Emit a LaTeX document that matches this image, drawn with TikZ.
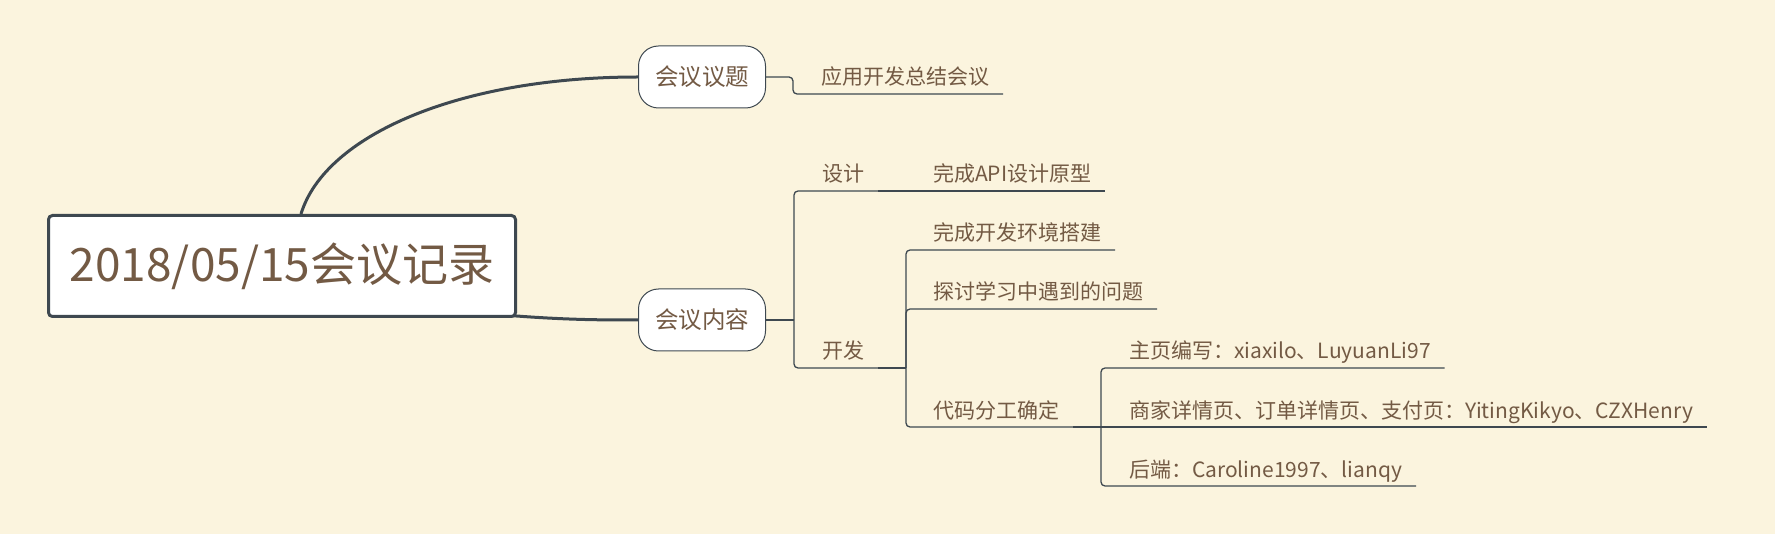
\documentclass[tikz,border=0pt]{standalone}
\usepackage{fontspec}
\newfontfamily\cjk{Noto Sans CJK SC}
\usetikzlibrary{backgrounds}
\definecolor{paper}{HTML}{FBF4DE}
\definecolor{ink}{HTML}{735A44}
\definecolor{wire}{HTML}{3E4850}
\tikzset{
  root/.style={draw=wire, fill=white, line width=3pt, rounded corners=4pt,
    minimum width=467pt, minimum height=101pt, text=ink,
    font=\cjk\fontsize{46}{55}\selectfont},
  topic/.style={draw=wire, fill=white, line width=1pt, rounded corners=20pt,
    minimum width=127pt, minimum height=62pt, text=ink,
    font=\cjk\fontsize{23.5}{28}\selectfont},
  leaf/.style={anchor=south west, inner xsep=14pt, inner ysep=0pt, outer sep=0pt,
    text height=17pt, text depth=9pt, text=ink,
    font=\cjk\fontsize{21}{25}\selectfont},
  trunk/.style={draw=wire, line width=3pt},
  twig/.style={draw=wire, line width=1.3pt, rounded corners=4pt},
}

\begin{document}
\begin{tikzpicture}[x=1pt, y=-1pt]
    \useasboundingbox (0,0) rectangle (1775,534);

    % main topics
    \node [root] (root) at (282,266) {2018/05/15会议记录};
    \node [topic] (agenda) at (702,77) {会议议题};
    \node [topic] (content) at (702,320) {会议内容};

    % subtopics
    \node [leaf] (summary) at (807,94) {应用开发总结会议};
    \node [leaf] (design) at (808,191) {设计};
    \node [leaf] (api) at (919,191) {完成API设计原型};
    \node [leaf] (dev) at (808,368) {开发};
    \node [leaf] (env) at (919,250) {完成开发环境搭建};
    \node [leaf] (issues) at (919,309) {探讨学习中遇到的问题};
    \node [leaf] (tasks) at (919,427) {代码分工确定};
    \node [leaf] (home) at (1115,368) {主页编写：xiaxilo、LuyuanLi97};
    \node [leaf] (shop) at (1115,427) {商家详情页、订单详情页、支付页：YitingKikyo、CZXHenry};
    \node [leaf] (back) at (1115,486) {后端：Caroline1997、lianqy};

    % connectors
    \begin{scope}[on background layer]
    \fill [paper] (0,0) rectangle (1775,534);
    \draw [trunk] ([xshift=19pt]root.north) .. controls (325,135) and (460,77) .. (agenda.west);
    \draw [trunk] ([xshift=-25pt, yshift=4pt]root.south east) .. controls (560,320) and (600,320) .. (content.west);

    \draw [twig] (agenda.east) -- ++(27,0) |- (summary.south west) -- (summary.south east);

    \draw [twig] (content.east) -- ++(28,0) coordinate (forkA);
    \draw [twig] (forkA) |- (design.south west) -- (design.south east);
    \draw [twig] (forkA) |- (dev.south west) -- (dev.south east);
    \draw [twig] (design.south east) -- (api.south west) -- (api.south east);

    \draw [twig] (dev.south east) -- ++(28,0) coordinate (forkB);
    \draw [twig] (forkB) |- (env.south west) -- (env.south east);
    \draw [twig] (forkB) |- (issues.south west) -- (issues.south east);
    \draw [twig] (forkB) |- (tasks.south west) -- (tasks.south east);

    \draw [twig] (tasks.south east) -- ++(28,0) coordinate (forkC);
    \draw [twig] (forkC) |- (home.south west) -- (home.south east);
    \draw [twig] (forkC) -- (shop.south west) -- (shop.south east);
    \draw [twig] (forkC) |- (back.south west) -- (back.south east);
    \end{scope}
\end{tikzpicture}
\end{document}
